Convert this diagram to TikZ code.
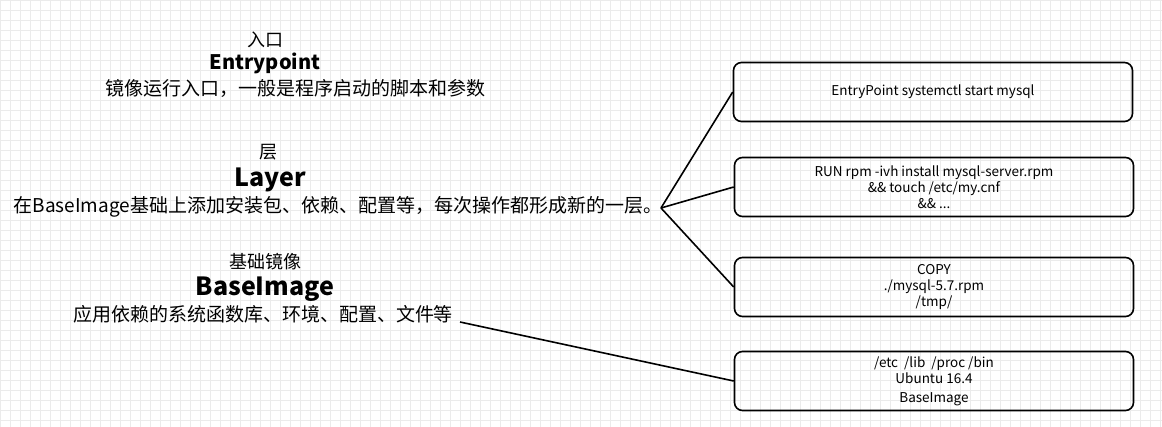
\documentclass[tikz,border=0pt]{standalone}
\usepackage{fontspec}
\setmainfont{Noto Sans CJK SC}
\usepackage{tikz}
\usetikzlibrary{positioning}
\tikzset{
  cmdbox/.style={draw,line width=1.6pt,rounded corners=8pt,minimum width=399pt,minimum height=59pt,align=center,font=\fontsize{13.5}{16}\selectfont},
  caption/.style={font=\fontsize{18}{22}\selectfont},
  title/.style={font=\fontsize{20}{24}\selectfont\bfseries},
  bigtitle/.style={font=\fontsize{25}{30}\selectfont\bfseries},
  note/.style={font=\fontsize{19}{24}\selectfont},
  link/.style={line width=1.6pt}
}
\begin{document}
\begin{tikzpicture}[x=1pt,y=-1pt]
\useasboundingbox (0,0) rectangle (1162,427);
\draw[black!8,step=10pt] (0,0) grid (1162,427);

\node[caption] (inl) at (265,40) {入口};
\node[title] (ep) at (265,63) {Entrypoint};
\node[note] (epnote) at (295,88) {镜像运行入口，一般是程序启动的脚本和参数};

\node[caption] (cl) at (268,152) {层};
\node[bigtitle] (layer) at (270,180) {Layer};
\node[note] (layernote) at (338,207) {在BaseImage基础上添加安装包、依赖、配置等，每次操作都形成新的一层。};

\node[caption] (jc) at (265,262) {基础镜像};
\node[bigtitle] (base) at (265,289) {BaseImage};
\node[note] (basenote) at (263,314) {应用依赖的系统函数库、环境、配置、文件等};

\node[cmdbox] (entry) at (933,92) {EntryPoint systemctl start mysql};
\node[cmdbox] (run) at (934,187) {RUN rpm -ivh install mysql-server.rpm\\\&\& touch /etc/my.cnf\\\&\& ...};
\node[cmdbox] (copy) at (934,287) {COPY\\./mysql-5.7.rpm\\/tmp/};
\node[cmdbox] (os) at (934,381) {/etc~~/lib~~/proc /bin\\Ubuntu 16.4\\[3pt]BaseImage};

\coordinate (fork) at (661,208);
\coordinate (baseend) at (460,322);
\draw[link] (fork) -- (entry.west);
\draw[link] (fork) -- (run.west);
\draw[link] (fork) -- (copy.west);
\draw[link] (baseend) -- (os.west);
\end{tikzpicture}
\end{document}
